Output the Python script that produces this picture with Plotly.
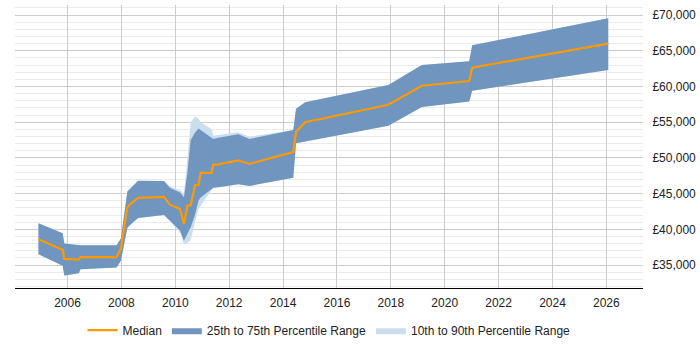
import plotly.graph_objects as go

years = [2004.92, 2005.82, 2005.88, 2006.42, 2006.48, 2007.82, 2007.98, 2008.22,
         2008.35, 2008.62, 2009.58, 2009.80, 2010.18, 2010.32, 2010.45, 2010.57,
         2010.73, 2010.86, 2010.94, 2011.35, 2011.41, 2011.60, 2012.34, 2012.75,
         2014.38, 2014.48, 2014.82, 2017.91, 2019.15, 2020.91, 2021.02, 2026.07]

median = [38600, 37150, 35850, 35750, 36100, 36100, 37300, 43070,
          43600, 44400, 44550, 43450, 42840, 40760, 43300, 43350,
          46200, 46200, 47900, 47900, 49050, 49100, 49660, 49150,
          50800, 53650, 55000, 57430, 60100, 60750, 62630, 66000]

p75 = [40850, 39450, 38000, 37800, 37780, 37780, 38700, 45300,
       45800, 46800, 46750, 45830, 45140, 44500, 48000, 52500,
       53500, 54100, 53900, 52900, 52650, 52800, 53290, 52640,
       53900, 56880, 57800, 60190, 63000, 63510, 65760, 69540]

p25 = [36500, 34900, 33550, 33850, 34400, 34650, 35600, 40200,
       40700, 41600, 42000, 41200, 39800, 38400, 39500, 40300,
       42000, 44000, 44450, 45700, 45830, 45900, 46300, 46070,
       47220, 52050, 52280, 54490, 57110, 57890, 59410, 62310]

p90 = [40850, 39450, 38000, 37800, 37780, 37780, 38700, 45300,
       45800, 46800, 46750, 46000, 45500, 45000, 50000, 55000,
       55800, 55500, 55000, 54000, 53100, 53200, 53570, 52970,
       53900, 56880, 57800, 60190, 63000, 63510, 65760, 69540]

p10 = [36500, 34900, 33550, 33850, 34400, 34650, 35600, 40200,
       40700, 41600, 42000, 41200, 39500, 37900, 38100, 38500,
       41000, 42800, 43300, 45500, 45830, 45900, 46300, 46070,
       47220, 52050, 52280, 54490, 57110, 57890, 59410, 62310]

x_ticks = [2006, 2008, 2010, 2012, 2014, 2016, 2018, 2020, 2022, 2024, 2026]
y_ticks = [35000, 40000, 45000, 50000, 55000, 60000, 65000, 70000]
y_labels = ["£35,000", "£40,000", "£45,000", "£50,000", "£55,000", "£60,000", "£65,000", "£70,000"]

DARK = "#7095be"
LIGHT = "#ccdeee"
ORANGE = "#ff9900"

fig = go.Figure()
fig.add_trace(go.Scatter(x=years, y=p10, mode="lines", line=dict(width=0, color=LIGHT),
                         showlegend=False, hoverinfo="skip"))
fig.add_trace(go.Scatter(x=years, y=p90, mode="lines", line=dict(width=0, color=LIGHT),
                         fill="tonexty", fillcolor=LIGHT, name="10th to 90th Percentile Range",
                         legendrank=3))
fig.add_trace(go.Scatter(x=years, y=p25, mode="lines", line=dict(width=0, color=DARK),
                         showlegend=False, hoverinfo="skip"))
fig.add_trace(go.Scatter(x=years, y=p75, mode="lines", line=dict(width=0, color=DARK),
                         fill="tonexty", fillcolor=DARK, name="25th to 75th Percentile Range",
                         legendrank=2))
fig.add_trace(go.Scatter(x=years, y=median, mode="lines", line=dict(width=2.2, color=ORANGE),
                         name="Median", legendrank=1))

fig.update_layout(
    width=700, height=350,
    margin=dict(l=15, r=57, t=5, b=58),
    paper_bgcolor="white", plot_bgcolor="white",
    font=dict(family="Liberation Sans, Arial, sans-serif", size=12, color="#222"),
    legend=dict(orientation="h", x=0.5, xanchor="center", y=-0.149, yanchor="middle",
                traceorder="normal",
                font=dict(size=12, color="#222"), itemwidth=30, tracegroupgap=0),
    showlegend=True,
)
fig.update_xaxes(
    range=[2004.05, 2027.36], tickvals=x_ticks, ticktext=[str(t) for t in x_ticks],
    showgrid=True, gridcolor="#cccccc", gridwidth=1,
    showline=True, linecolor="#000", linewidth=1,
    ticks="outside", ticklen=4, tickcolor="rgba(0,0,0,0)", zeroline=False,
    tickfont=dict(size=12, color="#222"),
)
fig.update_yaxes(
    range=[31785, 71400], side="right", tickvals=y_ticks, ticktext=y_labels,
    showgrid=True, gridcolor="#cccccc", gridwidth=1,
    minor=dict(dtick=1000, showgrid=True, gridcolor="#ebebeb", gridwidth=1, tick0=0),
    showline=False, zeroline=False,
    ticks="outside", ticklen=6, tickcolor="rgba(0,0,0,0)",
    tickfont=dict(size=12, color="#222"),
)

fig.write_html("out.html")
